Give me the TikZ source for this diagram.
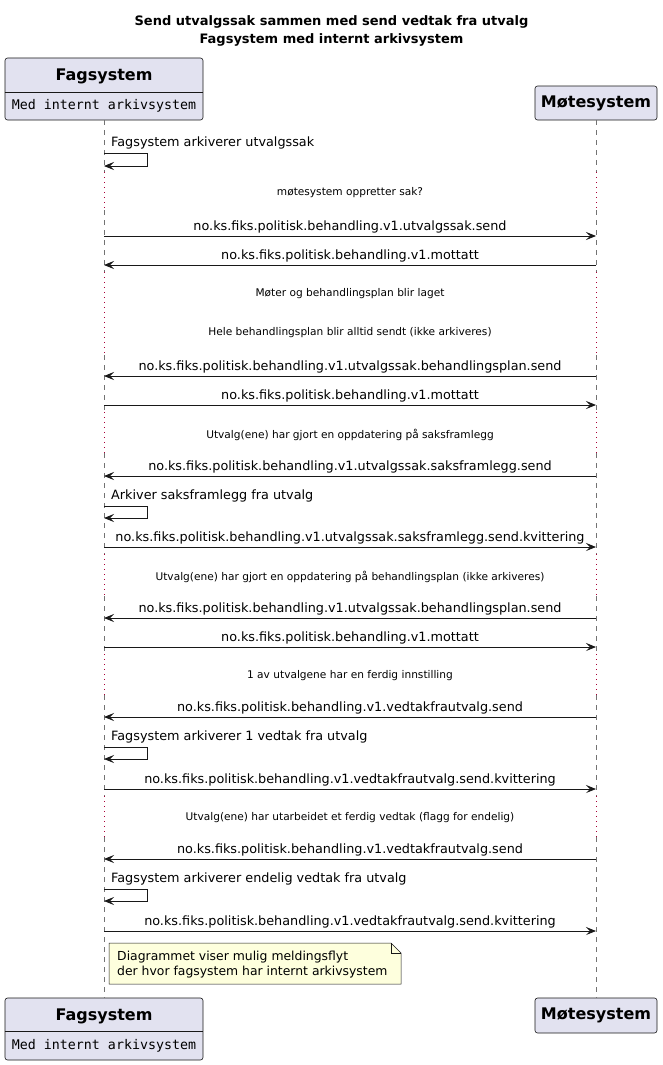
\documentclass[tikz,border=0pt]{standalone}
\usepackage{fontspec}
\setmainfont{DejaVu Sans}
\setmonofont{DejaVu Sans Mono}
\usepackage{tikz}
\usetikzlibrary{positioning,arrows.meta}
\definecolor{partfill}{HTML}{E2E2F0}
\definecolor{partline}{HTML}{181818}
\definecolor{notefill}{HTML}{FEFFDD}
\definecolor{delayline}{HTML}{A80036}

\begin{document}
\begin{tikzpicture}[x=1pt, y=-1pt,
  partbox/.style={draw=partline, fill=partfill, rounded corners=2.5pt, line width=0.6pt, inner sep=0pt},
  partname/.style={font=\bfseries\fontsize{16}{19}\selectfont},
  stereo/.style={font=\ttfamily\fontsize{13.3}{16}\selectfont},
  lifeline/.style={draw=black!55, line width=0.6pt, dash pattern=on 5pt off 5pt},
  delay/.style={draw=delayline, line width=1pt, dash pattern=on 1pt off 4pt},
  msg/.style={draw=partline, line width=0.8pt, -{Stealth[length=10pt, width=8pt, inset=4pt]}},
  msgtxt/.style={font=\fontsize{12.8}{15}\selectfont, above, inner sep=2pt},
  selftxt/.style={font=\fontsize{12.8}{15}\selectfont, anchor=west, inner sep=0pt},
  delaytxt/.style={font=\fontsize{10.6}{13}\selectfont},
]
  \useasboundingbox (0,0) rectangle (663,1065);
  \node[font=\bfseries\fontsize{13}{18}\selectfont, align=center] (title) at (331.5,31)
    {Send utvalgssak sammen med send vedtak fra utvalg\\Fagsystem med internt arkivsystem};

  % participants, top and bottom
  \node[partbox, minimum width=198, minimum height=62] (fagtop) at (104,89) {};
  \draw[partline, line width=0.6pt] (fagtop.west |- 0,92) -- (fagtop.east |- 0,92);
  \node[partname] (fagtopname) at (104,76) {Fagsystem};
  \node[stereo] (fagtopstereo) at (104,105.5) {Med internt arkivsystem};
  \node[partbox, minimum width=122, minimum height=34] (motetop) at (596,103) {};
  \node[partname] (motetopname) at (596,103) {Møtesystem};

  \node[partbox, minimum width=198, minimum height=62] (fagbot) at (104,1029) {};
  \draw[partline, line width=0.6pt] (fagbot.west |- 0,1031) -- (fagbot.east |- 0,1031);
  \node[partname] (fagbotname) at (104,1016) {Fagsystem};
  \node[stereo] (fagbotstereo) at (104,1045.5) {Med internt arkivsystem};
  \node[partbox, minimum width=122, minimum height=35] (motebot) at (596,1015.5) {};
  \node[partname] (motebotname) at (596,1015.5) {Møtesystem};

  % lifelines, dotted where time passes
  \foreach \a/\b in {120/172,210/272,355/412,453/554,596/654,695/796,837/998}{
    \draw[lifeline] (fagtop.south |- 0,\a) -- (fagtop.south |- 0,\b);
    \draw[lifeline] (motetop.south |- 0,\a) -- (motetop.south |- 0,\b);
  }
  \foreach \a/\b in {172/210,272/355,412/453,554/596,654/695,796/837}{
    \draw[delay] (fagtop.south |- 0,\a) -- (fagtop.south |- 0,\b);
    \draw[delay] (motetop.south |- 0,\a) -- (motetop.south |- 0,\b);
  }
  \node[delaytxt] (d1) at (350,193) {møtesystem oppretter sak?};
  \node[delaytxt] (d2) at (350,294) {Møter og behandlingsplan blir laget};
  \node[delaytxt] (d3) at (350,333) {Hele behandlingsplan blir alltid sendt (ikke arkiveres)};
  \node[delaytxt] (d4) at (350,435) {Utvalg(ene) har gjort en oppdatering på saksframlegg};
  \node[delaytxt] (d5) at (350,577) {Utvalg(ene) har gjort en oppdatering på behandlingsplan (ikke arkiveres)};
  \node[delaytxt] (d6) at (350,676) {1 av utvalgene har en ferdig innstilling};
  \node[delaytxt] (d7) at (350,818) {Utvalg(ene) har utarbeidet et ferdig vedtak (flagg for endelig)};

  % messages between the two systems
  \foreach \i/\y in {1/236,2/265,3/376,4/405,5/476,6/547,7/618,8/647,9/717,10/789,11/859,12/931}{
    \coordinate (f\i) at (104,\y);
    \coordinate (m\i) at (596,\y);
  }
  \draw[msg] (f1) -- node[msgtxt] {no.ks.fiks.politisk.behandling.v1.utvalgssak.send} (m1);
  \draw[msg] (m2) -- node[msgtxt] {no.ks.fiks.politisk.behandling.v1.mottatt} (f2);
  \draw[msg] (m3) -- node[msgtxt] {no.ks.fiks.politisk.behandling.v1.utvalgssak.behandlingsplan.send} (f3);
  \draw[msg] (f4) -- node[msgtxt] {no.ks.fiks.politisk.behandling.v1.mottatt} (m4);
  \draw[msg] (m5) -- node[msgtxt] {no.ks.fiks.politisk.behandling.v1.utvalgssak.saksframlegg.send} (f5);
  \draw[msg] (f6) -- node[msgtxt] {no.ks.fiks.politisk.behandling.v1.utvalgssak.saksframlegg.send.kvittering} (m6);
  \draw[msg] (m7) -- node[msgtxt] {no.ks.fiks.politisk.behandling.v1.utvalgssak.behandlingsplan.send} (f7);
  \draw[msg] (f8) -- node[msgtxt] {no.ks.fiks.politisk.behandling.v1.mottatt} (m8);
  \draw[msg] (m9) -- node[msgtxt] {no.ks.fiks.politisk.behandling.v1.vedtakfrautvalg.send} (f9);
  \draw[msg] (f10) -- node[msgtxt] {no.ks.fiks.politisk.behandling.v1.vedtakfrautvalg.send.kvittering} (m10);
  \draw[msg] (m11) -- node[msgtxt] {no.ks.fiks.politisk.behandling.v1.vedtakfrautvalg.send} (f11);
  \draw[msg] (f12) -- node[msgtxt] {no.ks.fiks.politisk.behandling.v1.vedtakfrautvalg.send.kvittering} (m12);

  % self messages on Fagsystem
  \foreach \i/\a/\b in {1/153/166,2/506/518,3/747/759,4/889/901}{
    \coordinate (s\i a) at (104,\a);
    \coordinate (s\i b) at (104,\b);
    \draw[msg] (s\i a) -- ++(43,0) |- (s\i b);
  }
  \node[selftxt] (t1) at (111,143) {Fagsystem arkiverer utvalgssak};
  \node[selftxt] (t2) at (111,496) {Arkiver saksframlegg fra utvalg};
  \node[selftxt] (t3) at (111,737) {Fagsystem arkiverer 1 vedtak fra utvalg};
  \node[selftxt] (t4) at (111,879) {Fagsystem arkiverer endelig vedtak fra utvalg};

  % note
  \path[draw=partline, fill=notefill, line width=0.5pt]
    (109,943) -- (391,943) -- (401,953) -- (401,984) -- (109,984) -- cycle;
  \draw[partline, line width=0.5pt] (391,943) |- (401,953);
  \node[font=\fontsize{12.4}{15}\selectfont, align=left, anchor=west, inner sep=0pt] (note) at (117,964.5)
    {Diagrammet viser mulig meldingsflyt\\der hvor fagsystem har internt arkivsystem};
\end{tikzpicture}
\end{document}
